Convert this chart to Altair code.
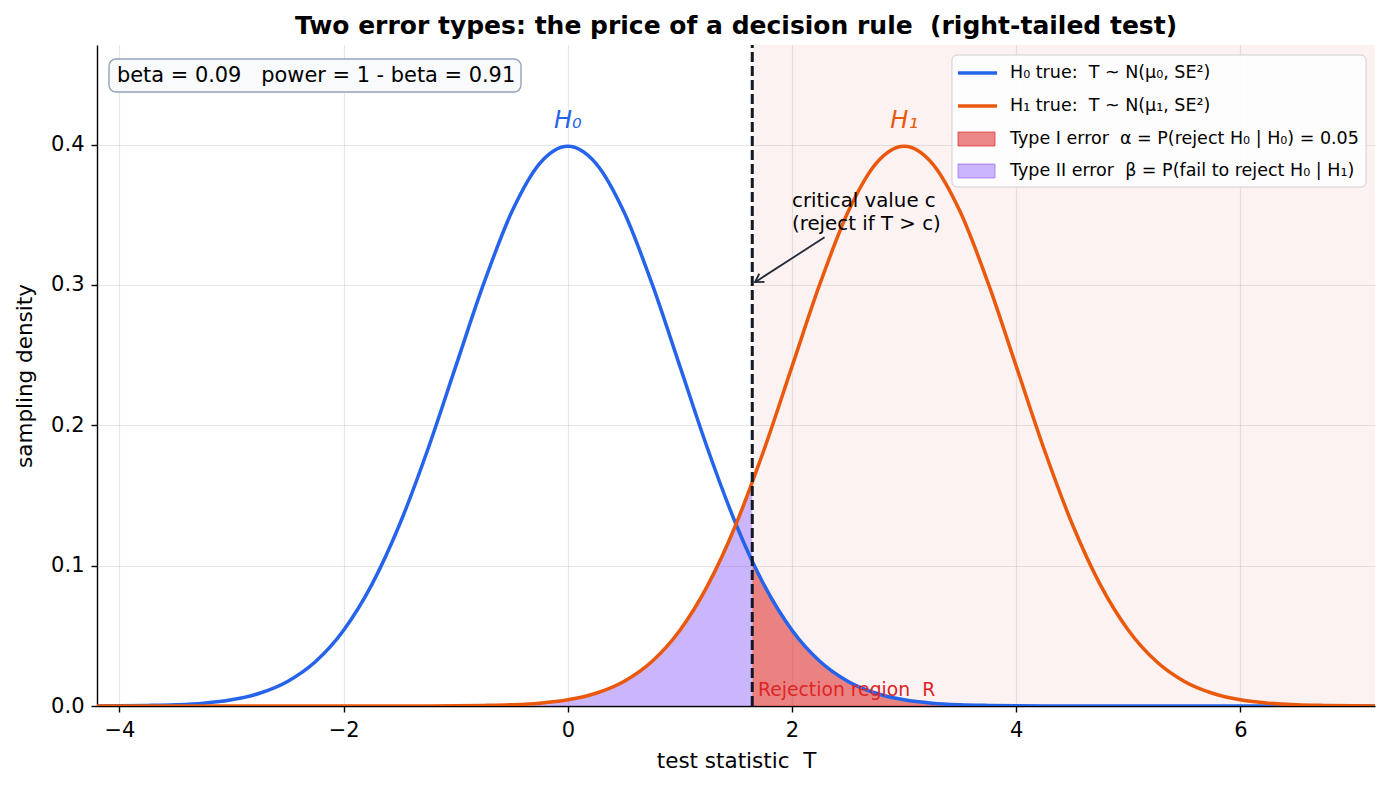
import altair as alt
import pandas as pd

# ---- data ----
xs = [-4.25, -4.0, -3.75, -3.5, -3.25, -3.0, -2.75, -2.5, -2.25, -2.0, -1.75, -1.5,
      -1.25, -1.0, -0.75, -0.5, -0.25, 0.0, 0.25, 0.5, 0.75, 1.0, 1.25, 1.5, 1.645,
      1.75, 2.0, 2.25, 2.5, 2.75, 3.0, 3.25, 3.5, 3.75, 4.0, 4.25, 4.5, 4.75, 5.0,
      5.25, 5.5, 5.75, 6.0, 6.25, 6.5, 6.75, 7.0, 7.25]
h0_density = [0.0000, 0.0001, 0.0004, 0.0009, 0.0020, 0.0044, 0.0091, 0.0175, 0.0317,
              0.0540, 0.0863, 0.1295, 0.1826, 0.2420, 0.3011, 0.3521, 0.3867, 0.3989,
              0.3867, 0.3521, 0.3011, 0.2420, 0.1826, 0.1295, 0.1031, 0.0863, 0.0540,
              0.0317, 0.0175, 0.0091, 0.0044, 0.0020, 0.0009, 0.0004, 0.0001, 0.0000,
              0.0, 0.0, 0.0, 0.0, 0.0, 0.0, 0.0, 0.0, 0.0, 0.0, 0.0, 0.0]
h1_density = [0.0, 0.0, 0.0, 0.0, 0.0, 0.0, 0.0, 0.0, 0.0, 0.0, 0.0, 0.0, 0.0,
              0.0001, 0.0004, 0.0009, 0.0020, 0.0044, 0.0091, 0.0175, 0.0317, 0.0540,
              0.0863, 0.1295, 0.1596, 0.1826, 0.2420, 0.3011, 0.3521, 0.3867, 0.3989,
              0.3867, 0.3521, 0.3011, 0.2420, 0.1826, 0.1295, 0.0863, 0.0540, 0.0317,
              0.0175, 0.0091, 0.0044, 0.0020, 0.0009, 0.0004, 0.0001, 0.0000]
critical_value = 1.645
x_ticks = [-4, -2, 0, 2, 4, 6]
y_ticks = [0.0, 0.1, 0.2, 0.3, 0.4]
x_domain = [-4.2, 7.2]
y_domain = [0.0, 0.471]

NB = "\u00a0"
title = f"Two error types: the price of a decision rule{NB}{NB}(right-tailed test)"
x_title = f"test statistic{NB}{NB}T"
y_title = "sampling density"
legend_labels = [f"H₀ true:{NB}{NB}T ~ N(μ₀, SE²)",
                 f"H₁ true:{NB}{NB}T ~ N(μ₁, SE²)",
                 f"Type I error{NB}{NB}α = P(reject H₀ | H₀) = 0.05",
                 f"Type II error{NB}{NB}β = P(fail to reject H₀ | H₁)"]
info_text = f"beta = 0.09{NB}{NB}{NB}power = 1 - beta = 0.91"
annotation_lines = ["critical value c", "(reject if T > c)"]
region_text = f"Rejection region{NB}{NB}R"

BLUE = "#2563eb"
ORANGE = "#ea580c"
RED = "#dc2626"
PURPLE = "#8b5cf6"
DARK = "#111827"
FONT = "DejaVu Sans"

df = pd.DataFrame({"x": xs, "h0": h0_density, "h1": h1_density})
cdf = pd.DataFrame({"c": [critical_value], "xmax": [x_domain[1]],
                    "y0": [y_domain[0]], "y1": [y_domain[1]]})
one = pd.DataFrame({"k": [0]})

xsc = alt.Scale(domain=x_domain, nice=False, zero=False)
ysc = alt.Scale(domain=y_domain, nice=False, zero=False)
xax = alt.Axis(values=x_ticks, format="d", title=x_title)
yax = alt.Axis(values=y_ticks, format=".1f", title=y_title)

base = alt.Chart(df)

region = alt.Chart(cdf).mark_rect(color=RED, opacity=0.06).encode(
    x=alt.X("c:Q", scale=xsc, axis=xax), x2="xmax:Q",
    y=alt.Y("y0:Q", scale=ysc, axis=yax), y2="y1:Q")

area2 = base.transform_filter(f"datum.x <= {critical_value}").mark_area(
    color=PURPLE, opacity=0.45, interpolate="monotone", clip=True).encode(
    x=alt.X("x:Q", scale=xsc), y=alt.Y("h1:Q", scale=ysc))
area1 = base.transform_filter(f"datum.x >= {critical_value}").mark_area(
    color=RED, opacity=0.55, interpolate="monotone", clip=True).encode(
    x=alt.X("x:Q", scale=xsc), y=alt.Y("h0:Q", scale=ysc))

line0 = base.mark_line(color=BLUE, strokeWidth=3.5, interpolate="monotone", clip=True).encode(
    x=alt.X("x:Q", scale=xsc), y=alt.Y("h0:Q", scale=ysc))
line1 = base.mark_line(color=ORANGE, strokeWidth=3.5, interpolate="monotone", clip=True).encode(
    x=alt.X("x:Q", scale=xsc), y=alt.Y("h1:Q", scale=ysc))

crit = alt.Chart(cdf).mark_rule(color=DARK, strokeWidth=3, strokeDash=[10, 4]).encode(
    x=alt.X("c:Q", scale=xsc), y=alt.Y("y0:Q", scale=ysc), y2="y1:Q")

# curve labels
lab_df = pd.DataFrame({"x": [0.0, 3.0], "y": [0.4165, 0.4165], "t": ["H₀", "H₁"],
                       "col": [BLUE, ORANGE]})
curve_labels = alt.Chart(lab_df).mark_text(font=FONT, fontSize=24, fontStyle="italic",
                                           baseline="middle", align="center").encode(
    x=alt.X("x:Q", scale=xsc), y=alt.Y("y:Q", scale=ysc), text="t:N",
    color=alt.Color("col:N", scale=None))

# annotation arrow
arr_df = pd.DataFrame({"x": [2.29], "y": [0.334], "x2": [1.67], "y2": [0.302]})
arrow_line = alt.Chart(arr_df).mark_rule(color="#1f2937", strokeWidth=1.8).encode(
    x=alt.X("x:Q", scale=xsc), y=alt.Y("y:Q", scale=ysc), x2="x2:Q", y2="y2:Q")
arrow_head = alt.Chart(arr_df).mark_point(
    shape="M -0.6 1 L 0 0 L 0.6 1", filled=False, color="#1f2937", strokeWidth=1.8,
    size=260, angle=237.5, opacity=1).encode(
    x=alt.X("x2:Q", scale=xsc), y=alt.Y("y2:Q", scale=ysc))
ann_text = alt.Chart(one).mark_text(
    text=annotation_lines, font=FONT, fontSize=19.8, align="left",
    baseline="middle", lineHeight=23, color="black").encode(
    x=alt.value(695), y=alt.value(156))

rej_text = alt.Chart(one).mark_text(text=region_text, font=FONT, fontSize=18.8,
                                    align="left", baseline="middle", color=RED).encode(
    x=alt.value(661), y=alt.value(645))

# info box
info_box = alt.Chart(one).mark_rect(fill="#f8fafc", stroke="#94a3b8", strokeWidth=1.4,
                                    cornerRadius=7).encode(
    x=alt.value(12), x2=alt.value(424), y=alt.value(14), y2=alt.value(47))
info_txt = alt.Chart(one).mark_text(text=info_text, font=FONT, fontSize=20.9, align="left",
                                    baseline="middle", color="black").encode(
    x=alt.value(20), y=alt.value(30.5))

# legend (drawn manually)
leg_box = alt.Chart(one).mark_rect(fill="white", opacity=0.9, stroke="#cccccc",
                                   strokeWidth=1, cornerRadius=5).encode(
    x=alt.value(855), x2=alt.value(1269), y=alt.value(10), y2=alt.value(142))
rows_y = [28, 61, 94, 126]
leg_l0 = alt.Chart(one).mark_rule(color=BLUE, strokeWidth=3.5).encode(
    x=alt.value(861), x2=alt.value(900), y=alt.value(rows_y[0]))
leg_l1 = alt.Chart(one).mark_rule(color=ORANGE, strokeWidth=3.5).encode(
    x=alt.value(861), x2=alt.value(900), y=alt.value(rows_y[1]))
leg_p1 = alt.Chart(one).mark_rect(fill=RED, fillOpacity=0.55, stroke=RED,
                                  strokeOpacity=0.7, strokeWidth=1).encode(
    x=alt.value(861), x2=alt.value(898), y=alt.value(rows_y[2] - 7), y2=alt.value(rows_y[2] + 7))
leg_p2 = alt.Chart(one).mark_rect(fill=PURPLE, fillOpacity=0.45, stroke=PURPLE,
                                  strokeOpacity=0.6, strokeWidth=1).encode(
    x=alt.value(861), x2=alt.value(898), y=alt.value(rows_y[3] - 7), y2=alt.value(rows_y[3] + 7))
leg_texts = [alt.Chart(one).mark_text(text=t, font=FONT, fontSize=17.5, align="left",
                                      baseline="middle", color="black").encode(
    x=alt.value(913), y=alt.value(yy)) for t, yy in zip(legend_labels, rows_y)]

chart = alt.layer(region, area2, area1, line0, line1, crit, curve_labels,
                  arrow_line, arrow_head, ann_text, rej_text,
                  info_box, info_txt, leg_box, leg_l0, leg_l1, leg_p1, leg_p2,
                  *leg_texts).properties(
    width=1278, height=661,
    title=alt.TitleParams(title, font=FONT, fontSize=25, fontWeight="bold",
                          anchor="middle", offset=5, color="black"),
    autosize=alt.AutoSizeParams(type="none"),
    padding={"left": 97, "top": 45, "right": 15, "bottom": 84},
).configure_view(stroke=None).configure_axis(
    labelFont=FONT, titleFont=FONT, labelFontSize=21, titleFontSize=21.5,
    labelColor="black", titleColor="black", domainColor="black", domainWidth=1.4,
    tickColor="black", tickSize=6, tickWidth=1.4, labelPadding=7,
    gridColor="#b0b0b0", gridOpacity=0.3, gridWidth=1.2, titleFontWeight="normal",
).configure_axisY(titlePadding=14).configure_axisX(titlePadding=10)

chart.save("out.html", embed_options={"renderer": "svg", "actions": False})
